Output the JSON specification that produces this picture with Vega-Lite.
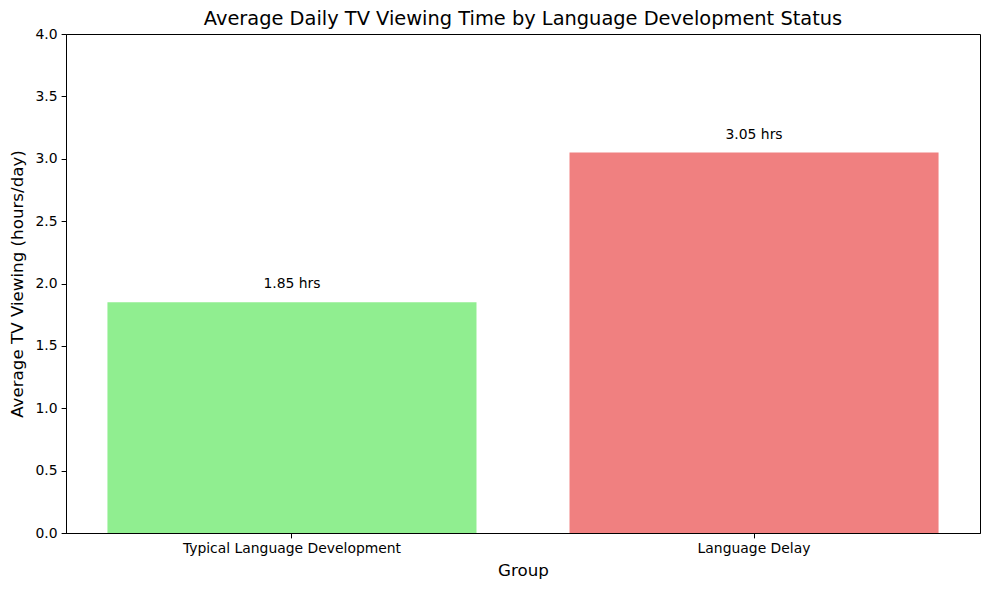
{
  "$schema": "https://vega.github.io/schema/vega-lite/v6.json",
  "autosize": "none",
  "width": 914,
  "height": 499,
  "padding": {"left": 66, "top": 34, "right": 9, "bottom": 57},
  "background": "white",
  "config": {
    "font": "DejaVu Sans",
    "view": {"stroke": "black", "strokeWidth": 1},
    "axis": {"grid": false, "domainColor": "black", "tickColor": "black", "labelColor": "black", "titleColor": "black", "labelFontSize": 13.9, "titleFontSize": 16.7, "titleFontWeight": "normal", "tickSize": 4.9, "labelPadding": 4, "labelLimit": 0}
  },
  "title": {"text": "Average Daily TV Viewing Time by Language Development Status", "fontSize": 19.4, "fontWeight": "normal", "color": "black", "offset": -2},
  "data": {"values": [
    {"group": "Typical Language Development", "hours": 1.85, "label": "1.85 hrs"},
    {"group": "Language Delay", "hours": 3.05, "label": "3.05 hrs"}
  ]},
  "encoding": {
    "x": {"field": "group", "type": "nominal", "sort": null, "title": "Group",
      "scale": {"paddingInner": 0.2013, "paddingOuter": 0.0897},
      "axis": {"labelAngle": 0, "titlePadding": 7}},
    "y": {"field": "hours", "type": "quantitative", "title": "Average TV Viewing (hours/day)",
      "scale": {"domain": [0, 4], "nice": false},
      "axis": {"values": [0, 0.5, 1, 1.5, 2, 2.5, 3, 3.5, 4], "format": ".1f", "titlePadding": 9}}
  },
  "layer": [
    {"mark": {"type": "bar"},
     "encoding": {"color": {"field": "group", "type": "nominal", "legend": null,
       "scale": {"domain": ["Typical Language Development", "Language Delay"], "range": ["#90EE90", "#F08080"]}}}},
    {"mark": {"type": "text", "baseline": "bottom", "dy": -11, "fontSize": 13.9, "color": "black"},
     "encoding": {"text": {"field": "label"}}}
  ]
}
